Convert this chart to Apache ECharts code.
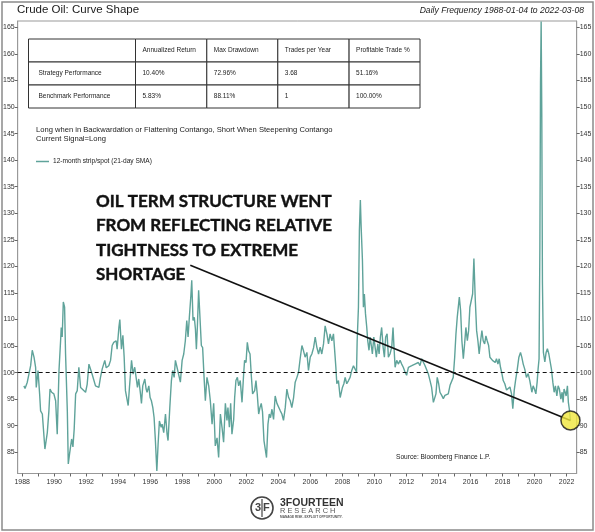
<!DOCTYPE html>
<html><head><meta charset="utf-8">
<script src="https://cdn.jsdelivr.net/npm/echarts@6/dist/echarts.min.js"></script>
<style>html,body{margin:0;padding:0;background:#fff}#c{width:595px;height:532px}</style>
</head><body><div id="c"></div>
<script>
// decimal-year dates of the 12-month strip / spot ratio (21-day SMA)
const t = [
1988.11,1988.18,1988.32,1988.43,1988.53,1988.63,1988.74,1988.84,1988.88,1988.99,
1989.09,1989.15,1989.26,1989.42,1989.57,1989.67,1989.74,1989.84,1989.98,1990.09,
1990.19,1990.30,1990.40,1990.44,1990.50,1990.57,1990.65,1990.71,1990.82,1990.88,
1990.96,1991.09,1991.17,1991.25,1991.34,1991.44,1991.54,1991.65,1991.75,1991.96,
1992.06,1992.17,1992.27,1992.37,1992.48,1992.58,1992.79,1992.89,1993.00,1993.10,
1993.16,1993.25,1993.41,1993.52,1993.62,1993.72,1993.79,1993.87,1993.93,1994.04,
1994.10,1994.20,1994.29,1994.37,1994.45,1994.62,1994.70,1994.83,1994.93,1995.03,
1995.12,1995.20,1995.28,1995.39,1995.45,1995.53,1995.66,1995.74,1995.80,1995.91,
1995.99,1996.07,1996.16,1996.24,1996.32,1996.41,1996.49,1996.57,1996.68,1996.74,
1996.84,1996.95,1997.05,1997.11,1997.22,1997.32,1997.40,1997.49,1997.57,1997.67,
1997.78,1997.88,1997.99,1998.09,1998.19,1998.28,1998.36,1998.44,1998.53,1998.59,
1998.67,1998.75,1998.82,1998.88,1998.94,1999.02,1999.11,1999.19,1999.27,1999.36,
1999.44,1999.54,1999.65,1999.75,1999.86,1999.96,2000.06,2000.17,2000.27,2000.38,
2000.48,2000.58,2000.69,2000.79,2000.85,2000.94,2001.02,2001.10,2001.21,2001.27,
2001.35,2001.44,2001.52,2001.62,2001.73,2001.83,2001.89,2001.98,2002.06,2002.14,
2002.23,2002.31,2002.39,2002.52,2002.60,2002.68,2002.77,2002.85,2002.93,2003.01,
2003.10,2003.18,2003.26,2003.35,2003.43,2003.51,2003.60,2003.70,2003.80,2003.91,
2004.01,2004.12,2004.22,2004.32,2004.43,2004.53,2004.64,2004.74,2004.84,2004.95,
2005.05,2005.16,2005.26,2005.36,2005.47,2005.57,2005.67,2005.78,2005.88,2005.99,
2006.09,2006.20,2006.30,2006.40,2006.51,2006.61,2006.71,2006.82,2006.92,2007.03,
2007.13,2007.23,2007.34,2007.44,2007.50,2007.59,2007.65,2007.75,2007.86,2007.92,
2008.00,2008.09,2008.17,2008.27,2008.38,2008.48,2008.58,2008.69,2008.79,2008.88,
2008.92,2009.00,2009.06,2009.12,2009.17,2009.25,2009.31,2009.37,2009.44,2009.52,
2009.58,2009.66,2009.73,2009.79,2009.87,2009.96,2010.04,2010.12,2010.21,2010.29,
2010.37,2010.45,2010.54,2010.62,2010.70,2010.79,2010.87,2010.97,2011.08,2011.16,
2011.22,2011.29,2011.39,2011.49,2011.60,2011.70,2011.80,2011.91,2012.01,2012.12,
2012.22,2012.33,2012.43,2012.53,2012.64,2012.74,2012.84,2012.95,2013.05,2013.16,
2013.26,2013.36,2013.47,2013.57,2013.68,2013.76,2013.84,2013.92,2014.01,2014.09,
2014.20,2014.30,2014.40,2014.51,2014.61,2014.72,2014.82,2014.92,2015.01,2015.09,
2015.17,2015.30,2015.38,2015.46,2015.55,2015.63,2015.71,2015.80,2015.88,2015.96,
2016.04,2016.13,2016.21,2016.29,2016.38,2016.46,2016.54,2016.63,2016.71,2016.79,
2016.88,2016.96,2017.04,2017.13,2017.21,2017.29,2017.37,2017.46,2017.54,2017.62,
2017.71,2017.79,2017.87,2017.96,2018.04,2018.14,2018.25,2018.35,2018.46,2018.56,
2018.64,2018.73,2018.81,2018.91,2019.02,2019.12,2019.20,2019.29,2019.39,2019.49,
2019.60,2019.70,2019.74,2019.83,2019.91,2019.99,2020.08,2020.16,2020.22,2020.28,
2020.33,2020.37,2020.41,2020.45,2020.49,2020.55,2020.64,2020.72,2020.80,2020.89,
2020.97,2021.05,2021.14,2021.22,2021.30,2021.39,2021.47,2021.55,2021.64,2021.72,
2021.78,2021.84,2021.91,2021.97,2022.05,2022.11,2022.17,2022.24
];
const v = [
97.5,97.0,98.2,98.5,101.3,104.2,102.9,101.0,97.2,100.4,
96.0,92.8,92.2,85.6,88.7,92.8,96.9,96.3,96.0,94.7,
88.4,100.4,106.0,108.5,106.7,113.3,112.3,103.5,92.8,82.8,
84.7,87.5,86.0,89.4,96.0,96.6,101.0,97.2,97.2,96.3,
97.8,101.6,101.9,99.7,99.4,97.5,97.2,99.1,100.7,101.0,
102.3,100.9,101.3,102.3,105.1,105.7,105.4,106.0,104.4,108.5,
110.0,104.4,107.0,102.9,96.6,93.8,97.2,102.3,99.7,101.0,
101.3,97.2,98.8,96.0,94.2,97.5,98.8,96.9,96.3,97.5,
95.3,94.7,93.4,91.5,87.2,81.5,86.6,90.9,89.7,90.3,
88.7,92.2,88.4,87.2,93.4,98.5,100.4,99.1,102.3,101.0,
101.3,98.2,102.3,103.5,106.0,109.8,106.7,110.4,114.2,117.4,
109.8,110.4,108.2,104.4,108.5,115.5,110.0,105.1,104.7,99.1,
94.7,99.1,97.5,94.7,90.3,94.2,86.2,87.7,84.0,92.2,
89.7,86.9,94.2,91.0,93.4,89.7,94.2,88.4,91.2,95.3,
98.5,99.1,97.5,98.5,94.4,99.7,102.3,101.9,105.7,104.1,
103.5,99.4,96.0,96.6,98.5,96.0,92.2,93.4,94.2,92.6,
87.2,85.6,84.0,90.3,92.2,91.5,93.1,91.2,95.6,94.2,
94.2,92.8,92.2,91.0,93.4,96.9,95.3,94.7,93.4,95.3,
98.2,99.1,100.1,102.6,105.1,104.1,102.9,103.8,100.4,102.9,
103.5,104.7,106.7,104.8,103.5,104.8,103.5,105.4,108.8,107.3,
105.4,107.3,106.0,107.3,104.8,101.0,97.9,98.5,95.3,95.0,
97.2,97.9,99.1,97.9,98.5,99.1,100.4,101.3,101.6,100.1,
106.0,112.3,126.8,132.5,127.4,121.1,112.3,114.8,111.1,108.5,
106.0,104.2,106.7,105.4,103.5,106.7,104.8,102.9,105.4,103.5,
106.7,108.5,104.8,102.9,106.7,107.3,102.9,103.5,104.8,108.5,
104.8,101.0,102.3,101.6,102.3,101.6,101.0,100.1,99.5,101.0,
100.7,101.3,101.0,101.6,101.3,101.9,101.3,102.6,102.9,101.3,
101.0,99.8,98.5,97.2,94.4,94.1,96.0,99.1,97.9,96.3,
95.7,95.1,95.7,95.4,96.0,97.6,97.9,99.1,102.9,107.3,
110.4,114.2,111.7,106.0,102.6,105.4,108.5,106.0,107.9,112.3,
112.6,114.8,121.5,114.2,107.9,106.0,103.5,106.0,107.9,106.0,
105.4,106.9,106.0,105.1,102.9,103.2,102.3,102.6,101.9,102.6,
101.6,102.6,101.0,99.8,98.5,97.9,96.7,97.0,97.3,96.0,
93.2,96.7,98.5,100.4,102.9,103.8,102.9,101.6,100.6,99.1,
99.8,98.5,98.2,96.3,97.5,96.9,96.0,98.2,100.7,102.6,
123.3,154.7,166.1,148.5,117.0,103.8,102.0,103.8,104.5,103.5,
103.8,100.7,98.2,96.3,97.5,95.6,97.5,96.9,95.0,96.3,
94.4,96.9,96.3,95.6,97.5,94.4,93.1,91.0
];
const yTicks = [85,90,95,100,105,110,115,120,125,130,135,140,145,150,155,160,165];
const xLabelYears = [1988,1990,1992,1994,1996,1998,2000,2002,2004,2006,2008,2010,2012,2014,2016,2018,2020,2022];
const xTickYears = [1988,1989,1990,1991,1992,1993,1994,1995,1996,1997,1998,1999,2000,2001,2002,2003,2004,2005,2006,2007,2008,2009,2010,2011,2012,2013,2014,2015,2016,2017,2018,2019,2020,2021,2022];
const tableHeader = ['', 'Annualized Return', 'Max Drawdown', 'Trades per Year', 'Profitable Trade %'];
const strategyRow = ['Strategy Performance', '10.40%', '72.96%', '3.68', '51.16%'];
const benchmarkRow = ['Benchmark Performance', '5.83%', '88.11%', '1', '100.00%'];
const annotationLines = ['OIL TERM STRUCTURE WENT', 'FROM REFLECTING RELATIVE', 'TIGHTNESS TO EXTREME', 'SHORTAGE'];
const annotationStart = [1998.5, 120.2];
const signalLevel = 100;

const FONT = "'Liberation Sans', Arial, sans-serif";
const TEAL = '#5fa39a';
const chart = echarts.init(document.getElementById('c'), null, {renderer: 'canvas'});

const lineData = t.map((x, i) => [x, v[i]]);
const last = lineData[lineData.length - 1];

// table graphics
const colX = [28.5, 135.5, 206.8, 277.8, 349.1, 420];
const rowY = [39, 62, 85, 108];
const rows = [tableHeader, strategyRow, benchmarkRow];
const graphics = [];
graphics.push({type: 'rect', shape: {x: 2, y: 2, width: 591, height: 528}, style: {fill: 'none', stroke: '#8a8a8a', lineWidth: 1.5}, silent: true});
rows.forEach((row, r) => {
  row.forEach((cell, c) => {
    graphics.push({type: 'rect', shape: {x: colX[c], y: rowY[r], width: colX[c+1] - colX[c], height: rowY[r+1] - rowY[r]},
      style: {fill: '#fff', stroke: '#333', lineWidth: 1}, z: 10});
    if (cell) graphics.push({type: 'text', x: colX[c] + (c === 0 ? 10 : 7), y: (rowY[r] + rowY[r+1]) / 2,
      style: {text: cell, font: '6.5px ' + FONT, fill: '#222', verticalAlign: 'middle'}, z: 11});
  });
});
// titles
graphics.push({type: 'text', x: 17, y: 10, style: {text: 'Crude Oil: Curve Shape', font: '11.5px ' + FONT, fill: '#1a1a1a', verticalAlign: 'middle'}});
graphics.push({type: 'text', x: 584, y: 10.5, style: {text: 'Daily Frequency 1988-01-04 to 2022-03-08', font: 'italic 8.6px ' + FONT, fill: '#1a1a1a', align: 'right', verticalAlign: 'middle'}});
graphics.push({type: 'text', x: 36, y: 130, style: {text: 'Long when in Backwardation or Flattening Contango, Short When Steepening Contango', font: '7.6px ' + FONT, fill: '#222', verticalAlign: 'middle'}});
graphics.push({type: 'text', x: 36, y: 138.5, style: {text: 'Current Signal=Long', font: '7.6px ' + FONT, fill: '#222', verticalAlign: 'middle'}});
// legend
graphics.push({type: 'line', shape: {x1: 36, y1: 161.5, x2: 49, y2: 161.5}, style: {stroke: TEAL, lineWidth: 1.5}});
graphics.push({type: 'text', x: 53, y: 161.5, style: {text: '12-month strip/spot (21-day SMA)', font: '6.6px ' + FONT, fill: '#222', verticalAlign: 'middle'}});
// annotation text
annotationLines.forEach((s, i) => {
  graphics.push({type: 'text', x: 96, y: 193 + i * 24.5, style: {text: s, font: 'bold 17px Lato, ' + FONT, fill: '#111', stroke: '#111', lineWidth: 0.4, verticalAlign: 'alphabetic'}, z: 20});
});
// source
graphics.push({type: 'text', x: 396, y: 457, style: {text: 'Source: Bloomberg Finance L.P.', font: '6.6px ' + FONT, fill: '#222', verticalAlign: 'middle'}});
// logo
graphics.push({type: 'circle', shape: {cx: 262, cy: 508, r: 11}, style: {fill: '#fff', stroke: '#444', lineWidth: 1.6}});
graphics.push({type: 'line', shape: {x1: 262, y1: 499, x2: 262, y2: 517}, style: {stroke: '#444', lineWidth: 1.2}});
graphics.push({type: 'text', x: 261, y: 508, style: {text: '3', font: 'bold 11px ' + FONT, fill: '#444', align: 'right', verticalAlign: 'middle'}});
graphics.push({type: 'text', x: 263, y: 508, style: {text: 'F', font: 'bold 11px ' + FONT, fill: '#444', align: 'left', verticalAlign: 'middle'}});
graphics.push({type: 'text', x: 280, y: 503, style: {text: '3FOURTEEN', font: 'bold 10.5px ' + FONT, fill: '#333', verticalAlign: 'middle'}});
graphics.push({type: 'text', x: 280, y: 511, style: {text: 'R E S E A R C H', font: '7.4px ' + FONT, fill: '#555', verticalAlign: 'middle'}});
graphics.push({type: 'text', x: 280, y: 517.5, style: {text: 'MANAGE RISK. EXPLOIT OPPORTUNITY.', font: 'bold 3.2px ' + FONT, fill: '#555', verticalAlign: 'middle'}});

const yAxisCommon = {
  type: 'value', min: 81, max: 166.2,
  splitLine: {show: false},
  axisLine: {show: true, lineStyle: {color: '#999', width: 1}},
  axisTick: {show: true, length: 3, lineStyle: {color: '#666'}, customValues: yTicks},
  axisLabel: {fontSize: 7, color: '#333', margin: 3, fontFamily: FONT, customValues: yTicks}
};

chart.setOption({
  animation: false,
  backgroundColor: '#fff',
  grid: {left: 17.5, right: 18.3, top: 21, bottom: 58.5, show: true, borderColor: '#999', borderWidth: 1},
  xAxis: {
    type: 'value', min: 1987.72, max: 2022.63,
    splitLine: {show: false},
    axisLine: {show: true, onZero: false, lineStyle: {color: '#999'}},
    axisTick: {show: true, length: 3, lineStyle: {color: '#666'}, customValues: xTickYears},
    axisLabel: {fontSize: 7, color: '#333', margin: 5, fontFamily: FONT, customValues: xLabelYears, formatter: (x) => String(Math.round(x))}
  },
  yAxis: [
    Object.assign({}, yAxisCommon, {position: 'left'}),
    Object.assign({}, yAxisCommon, {position: 'right'})
  ],
  graphic: graphics,
  series: [
    {
      type: 'line', data: lineData, showSymbol: false, symbol: 'none',
      lineStyle: {color: TEAL, width: 1.4}, z: 2, silent: true,
      markLine: {silent: true, symbol: 'none', label: {show: false},
        lineStyle: {color: '#111', type: [4, 3], width: 1.1},
        data: [{yAxis: signalLevel}]}
    },
    {
      type: 'line', data: [annotationStart, last], showSymbol: false, symbol: 'none',
      lineStyle: {color: '#111', width: 1.6}, z: 4, silent: true
    },
    {
      type: 'scatter', data: [last], symbol: 'circle', symbolSize: 19,
      itemStyle: {color: '#f0e63c', borderColor: '#111', borderWidth: 1.5}, z: 5, silent: true
    }
  ]
});
</script></body></html>
